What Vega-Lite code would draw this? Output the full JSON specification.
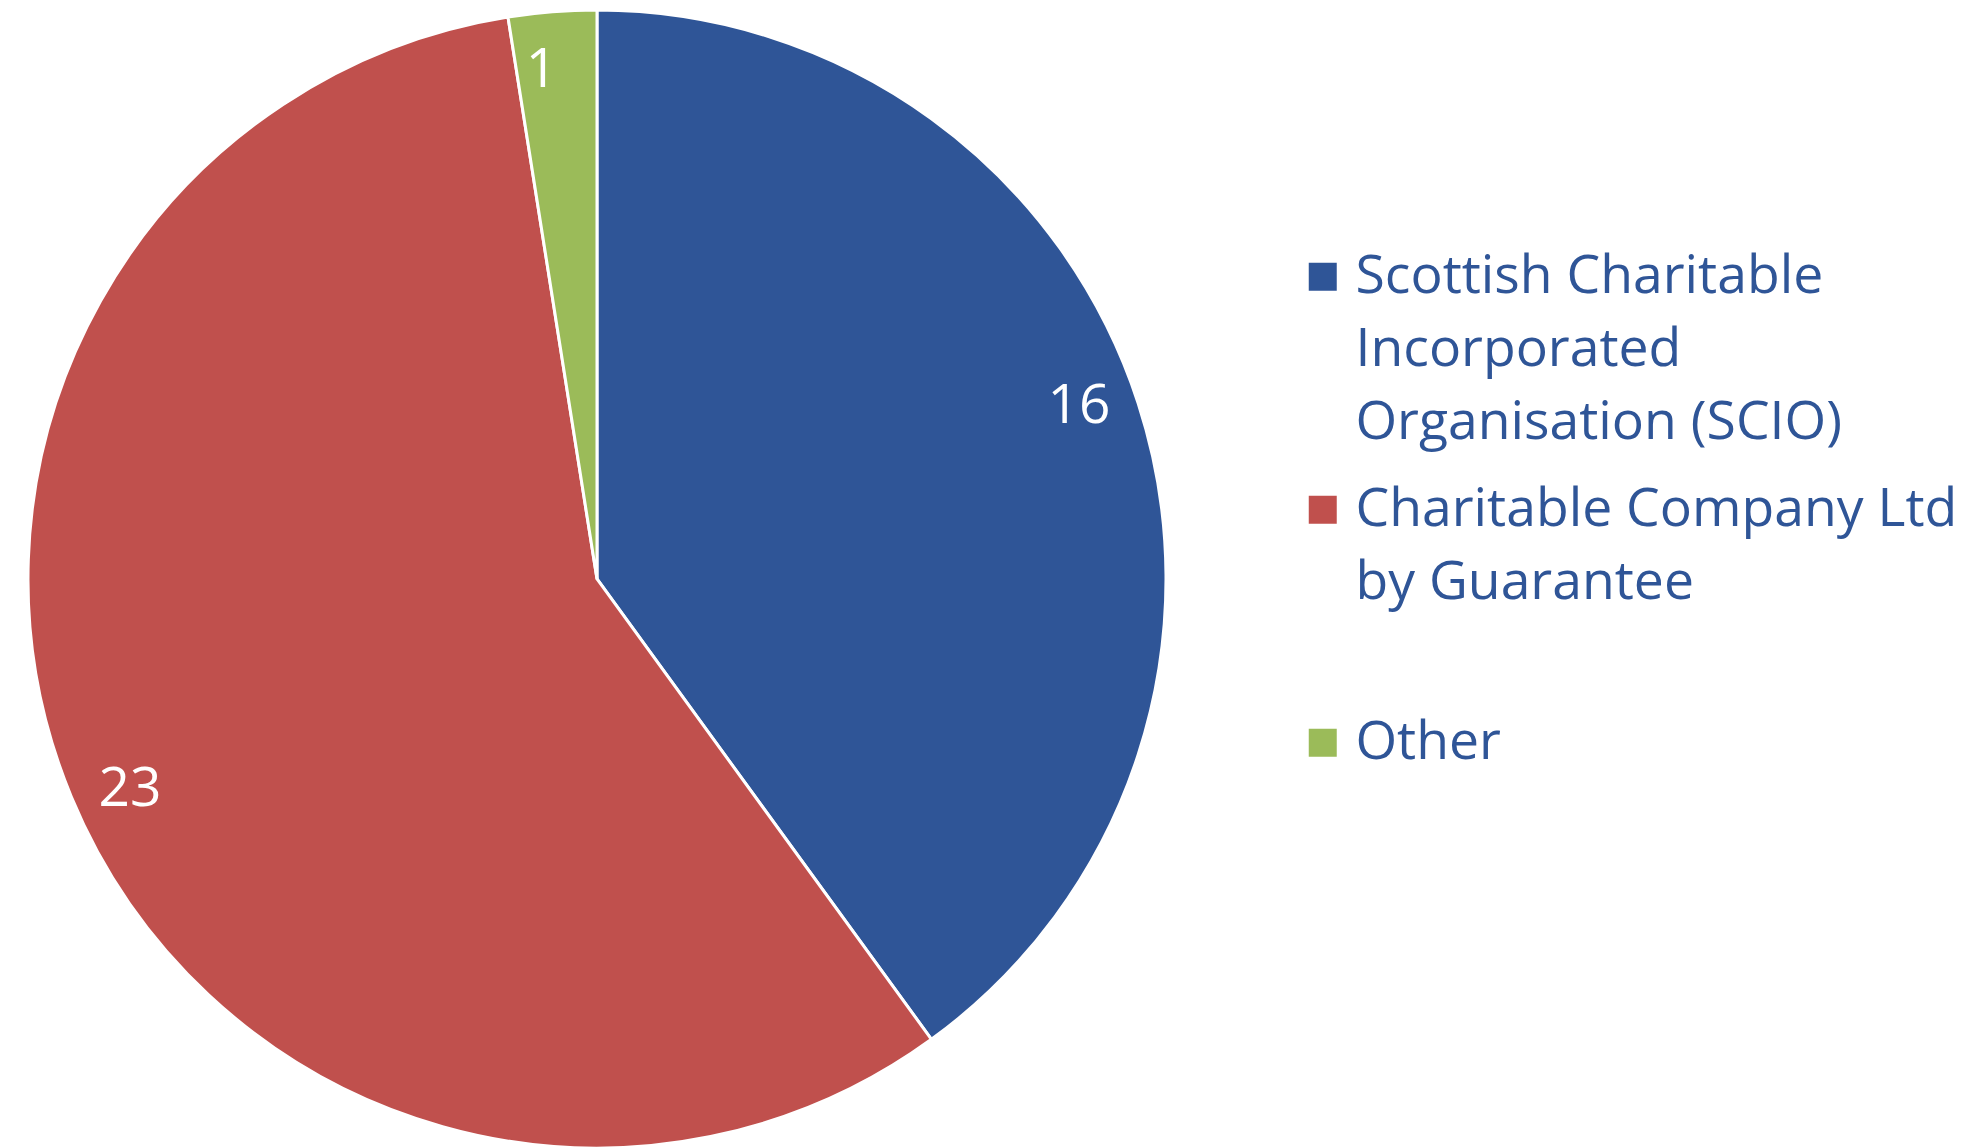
{
  "$schema": "https://vega.github.io/schema/vega-lite/v6.json",
  "width": 1138,
  "height": 1138,
  "autosize": {"type": "none"},
  "padding": {"left": 28, "top": 10, "right": 820, "bottom": 0},
  "background": "white",
  "config": {"view": {"stroke": null}, "font": "Open Sans", "style": {"guide-label": {"lineHeight": 73}}},
  "data": {
    "values": [
      {"type": "Scottish Charitable Incorporated Organisation (SCIO)", "count": 16, "order": 1},
      {"type": "Charitable Company Ltd by Guarantee", "count": 23, "order": 2},
      {"type": "Other", "count": 1, "order": 3}
    ]
  },
  "encoding": {
    "theta": {"field": "count", "type": "quantitative", "stack": true},
    "order": {"field": "order", "type": "quantitative"}
  },
  "layer": [
    {
      "mark": {"type": "arc", "outerRadius": 569, "stroke": "white", "strokeWidth": 3},
      "encoding": {
        "color": {
          "field": "type",
          "type": "nominal",
          "sort": ["Scottish Charitable Incorporated Organisation (SCIO)", "Charitable Company Ltd by Guarantee", "Other"],
          "scale": {
            "domain": ["Scottish Charitable Incorporated Organisation (SCIO)", "Charitable Company Ltd by Guarantee", "Other"],
            "range": ["#2F5597", "#C0504D", "#9BBB59"]
          },
          "legend": {
            "title": null,
            "orient": "none",
            "legendX": 1268,
            "legendY": 240,
            "padding": 0,
            "symbolType": "square",
            "symbolSize": 784,
            "symbolStrokeWidth": 0,
            "labelFont": "Open Sans",
            "labelFontSize": 53.5,
            "labelColor": "#2F5597",
            "labelLimit": 800,
            "labelOffset": 6,
            "labelBaseline": "middle",
            "rowPadding": 32,
            "labelExpr": "datum.label == 'Other' ? ['Other', '', ''] : datum.label == 'Charitable Company Ltd by Guarantee' ? ['Charitable Company Ltd', 'by Guarantee', ''] : ['Scottish Charitable', 'Incorporated', 'Organisation (SCIO)']"
          }
        }
      }
    },
    {
      "mark": {"type": "text", "radius": 512, "thetaOffset": -0.03, "fontSize": 55, "font": "Open Sans", "color": "white"},
      "encoding": {
        "text": {"field": "count", "type": "quantitative"}
      }
    }
  ]
}
